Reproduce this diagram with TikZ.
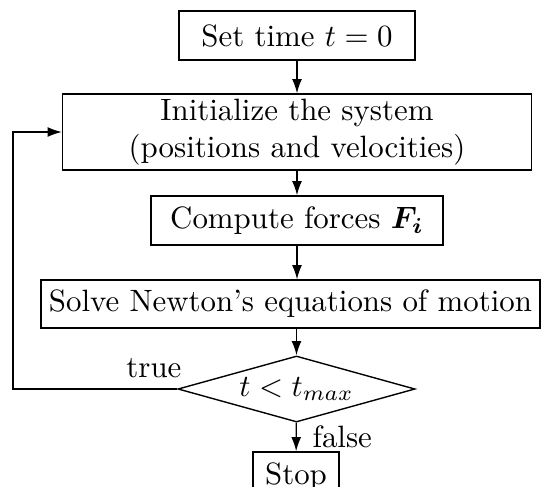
\documentclass[tikz,border=0pt]{standalone}
\usepackage{bm}
\usetikzlibrary{arrows.meta,shapes.geometric}
\tikzset{
  box/.style={draw, line width=0.45pt, rectangle, inner sep=0pt, align=center},
  cond/.style={draw, line width=0.45pt, diamond, aspect=3.6, inner sep=0pt},
  arr/.style={-{Latex[length=4.6pt,width=3.2pt]}, line width=0.45pt},
  lbl/.style={inner sep=0pt}
}
\begin{document}
\begin{tikzpicture}[x=0.3239pt, y=-0.3239pt]
\useasboundingbox (0,0) rectangle (542,486);
\node[box, minimum width=76.4pt, minimum height=15.9pt] (set) at (297,35.5) {Set time $t=0$};
\node[box, minimum width=151.9pt, minimum height=24.6pt] (init) at (297,132) {Initialize the system\\(positions and velocities)};
\node[box, minimum width=94.6pt, minimum height=15.9pt] (comp) at (297,220.5) {Compute forces $\bm{F_i}$};
\node[box, minimum width=161.6pt, minimum height=15.5pt] (solve) at (290.5,304) {Solve Newton's equations of motion};
\node[cond, minimum width=76.8pt, minimum height=21.4pt] (cond) at (296.5,389) {$t<t_{max}$};
\node[box, minimum width=27.9pt, minimum height=15.9pt] (stop) at (296,476.5) {Stop};
\node[lbl, anchor=base east] (true) at (182,377) {true};
\node[lbl, anchor=base west] (false) at (312,447) {false};
\coordinate (lp) at (13,389);
\draw[arr] (set) -- (init);
\draw[arr] (init) -- (comp);
\draw[arr] (comp.south) -- (comp.south |- solve.north);
\draw[arr] (solve.south -| cond.north) -- (cond.north);
\draw[arr] (cond) -- (stop);
\draw[arr] (cond.west) -- (lp) |- (init.west);
\end{tikzpicture}
\end{document}
